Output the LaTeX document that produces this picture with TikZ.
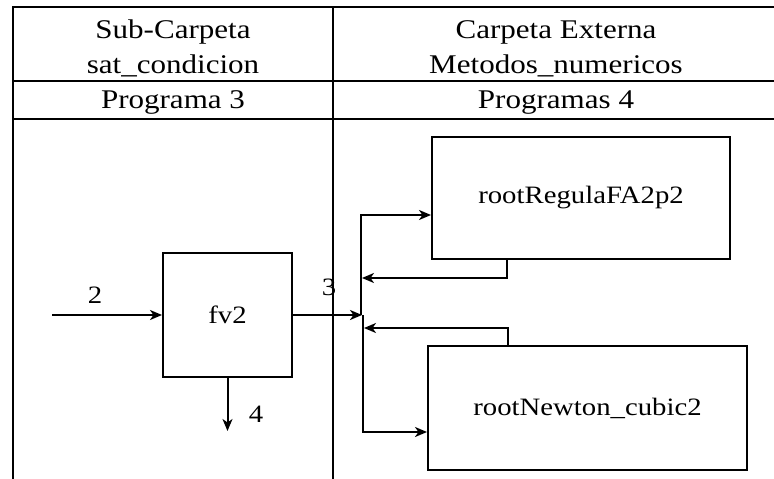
\documentclass[tikz,border=0pt]{standalone}
\usepackage{fontspec}
\setmainfont{Liberation Serif}[FakeStretch=1.15]
\usetikzlibrary{arrows.meta}
\begin{document}
\begin{tikzpicture}[x=1pt,y=-1pt,
  grid/.style={line width=2.2pt},
  block/.style={draw,line width=2pt,inner sep=0pt,font=\fontsize{25}{30}\selectfont},
  flow/.style={line width=2pt,-{Stealth[length=12pt,width=10pt,inset=3.5pt]}},
  head/.style={font=\fontsize{27}{32}\selectfont,anchor=base,inner sep=0pt},
  lbl/.style={font=\fontsize{25}{30}\selectfont,anchor=base,inner sep=0pt}]
\useasboundingbox (0,0) rectangle (774,479);

% header texts
\node[head] (h1a) at (173,38)  {Sub-Carpeta};
\node[head] (h1b) at (173,73)  {sat\_condicion};
\node[head] (h1c) at (173,108) {Programa 3};
\node[head] (h2a) at (556,38)  {Carpeta Externa};
\node[head] (h2b) at (556,73)  {Metodos\_numericos};
\node[head] (h2c) at (556,108) {Programas 4};

% program blocks
\node[block,minimum width=129pt,minimum height=124pt] (fv) at (227.5,315) {fv2};
\node[block,minimum width=298pt,minimum height=122pt] (rr) at (581,198) {rootRegulaFA2p2};
\node[block,minimum width=319pt,minimum height=124pt] (rn) at (587.5,408) {rootNewton\_cubic2};

% connector points
\coordinate (src)  at (52,315);
\coordinate (out4) at (226,431);
\coordinate (jn)   at (362,315);
\coordinate (jt)   at (361,215);
\coordinate (jn2)  at (363,315);
\coordinate (jb)   at (363,432);
\coordinate (rrout) at (507,259);
\coordinate (fb1)  at (362,278);
\coordinate (rnin) at (508,346);
\coordinate (fb2)  at (364,328);

% connectors
\draw[flow] (src) -- (fv.west);
\draw[flow] (fv.south) -- (fv.south |- out4);
\draw[flow] (fv.east) -- (jn);
\draw[flow] (jt |- jn) -- (jt) -- (jt -| rr.west);
\draw[flow] (rrout) |- (fb1);
\draw[flow] (rnin) |- (fb2);
\draw[flow] (jn2) -- (jb) -- (jb -| rn.west);

% connector labels
\node[lbl] (l2) at (95,303)  {2};
\node[lbl] (l3) at (329,295) {3};
\node[lbl] (l4) at (256,422) {4};

% table rules
\draw[grid] (13,479) -- (13,7) -- (774,7);
\draw[grid] (13,81) -- (774,81);
\draw[grid] (13,119) -- (774,119);
\draw[grid] (333,7) -- (333,479);
\end{tikzpicture}
\end{document}
